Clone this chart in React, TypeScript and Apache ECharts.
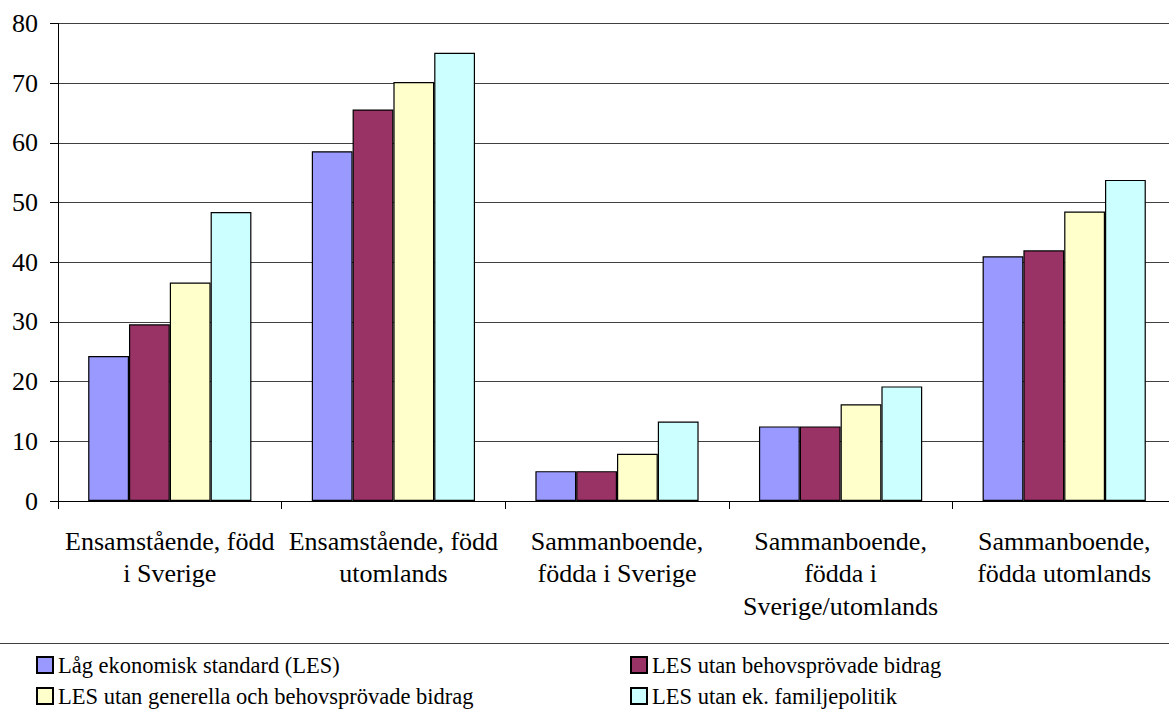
import React, { useEffect, useRef } from "react";
import * as echarts from "echarts";

const categories = [
  "Ensamstående, född\ni Sverige",
  "Ensamstående, född\nutomlands",
  "Sammanboende,\nfödda i Sverige",
  "Sammanboende,\nfödda i\nSverige/utomlands",
  "Sammanboende,\nfödda utomlands",
];

const seriesNames = [
  "Låg ekonomisk standard (LES)",
  "LES utan behovsprövade bidrag",
  "LES utan generella och behovsprövade bidrag",
  "LES utan ek. familjepolitik",
];

const lesValues = [24.3, 58.6, 5.0, 12.5, 41.0];
const utanBehovValues = [29.6, 65.6, 5.0, 12.5, 42.0];
const utanGenerellaValues = [36.6, 70.2, 7.9, 16.2, 48.5];
const utanFamiljValues = [48.4, 75.1, 13.3, 19.2, 53.8];

const seriesColors = ["#9999FF", "#993366", "#FFFFCC", "#CCFFFF"];

const yTicks = { min: 0, max: 80, interval: 10 };

const FONT = "Liberation Serif";

export default function App() {
  const ref = useRef<HTMLDivElement>(null);

  useEffect(() => {
    if (!ref.current) return;
    const chart = echarts.init(ref.current, null, { renderer: "svg" });
    const values = [lesValues, utanBehovValues, utanGenerellaValues, utanFamiljValues];
    const legendText = { fontFamily: FONT, fontSize: 22.5, color: "#000", lineHeight: 24 };
    const legendBase = {
      orient: "vertical",
      top: 653,
      icon: "rect",
      itemWidth: 16,
      itemHeight: 16,
      itemGap: 7,
      padding: 0,
      textStyle: legendText,
    };
    chart.setOption({
      animation: false,
      backgroundColor: "#ffffff",
      textStyle: { fontFamily: FONT, color: "#000", fontSize: 26 },
      grid: { left: 58, right: 1, top: 23.5, bottom: 216, containLabel: false },
      legend: [
        { ...legendBase, data: [seriesNames[0], seriesNames[2]], left: 36 },
        { ...legendBase, data: [seriesNames[1], seriesNames[3]], left: 630 },
      ],
      graphic: [
        {
          type: "line",
          shape: { x1: 0, y1: 643.5, x2: 1177, y2: 643.5 },
          style: { stroke: "#404040", lineWidth: 1 },
          silent: true,
        },
      ],
      xAxis: {
        type: "category",
        data: categories,
        axisLine: { show: true, lineStyle: { color: "#000", width: 1 } },
        axisTick: { show: true, length: 8, lineStyle: { color: "#000" } },
        axisLabel: {
          interval: 0,
          margin: 24,
          fontFamily: FONT,
          fontSize: 26,
          lineHeight: 32.5,
          color: "#000",
          align: "center",
        },
      },
      yAxis: {
        type: "value",
        min: yTicks.min,
        max: yTicks.max,
        interval: yTicks.interval,
        axisLine: { show: true, lineStyle: { color: "#000", width: 1 } },
        axisTick: { show: true, length: 8, lineStyle: { color: "#000" } },
        axisLabel: { margin: 20, fontFamily: FONT, fontSize: 26, color: "#000" },
        splitLine: { show: true, lineStyle: { color: "#404040", width: 1 } },
      },
      series: seriesNames.map((name, i) => ({
        name,
        type: "bar",
        data: values[i],
        barGap: "0%",
        barCategoryGap: "27%",
        itemStyle: { color: seriesColors[i], borderColor: "#000", borderWidth: 1.2 },
      })),
    });
    return () => chart.dispose();
  }, []);

  return (
    <div
      ref={ref}
      style={{ position: "fixed", left: 0, top: 0, width: 1177, height: 717, background: "#fff" }}
    />
  );
}
